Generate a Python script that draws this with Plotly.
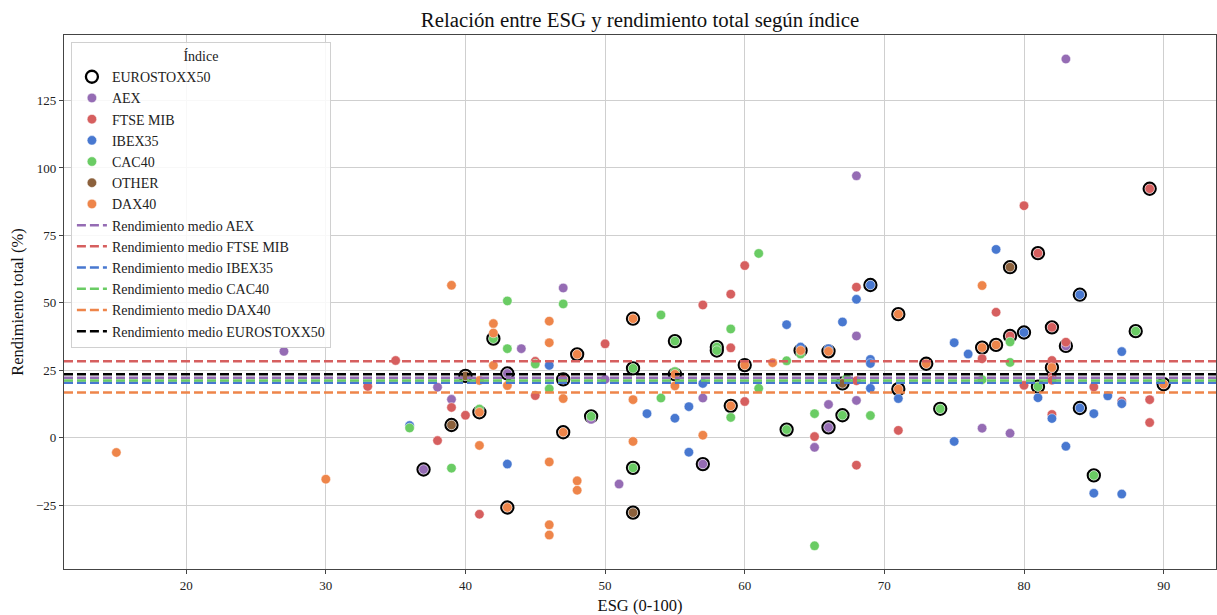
import plotly.graph_objects as go

# ---------------- data ----------------
# Each index: ESG score, total return (%), and EUROSTOXX50 membership flag
aex_esg = [27, 38, 39, 44, 47, 49, 50, 51, 57, 65, 66, 68, 68, 68, 77, 79, 83,
           37, 43, 57, 66, 83]
aex_ret = [32.0, 18.7, 14.2, 33.0, 55.5, 6.8, 21.6, -17.2, 14.7, -3.6, 12.3, 97.1, 37.7, 13.8, 3.5, 1.6, 140.4,
           -11.8, 23.8, -9.8, 3.8, 34.0]
aex_es = [0] * 17 + [1] * 5

ftse_esg = [33, 35, 38, 39, 40, 41, 45, 45, 50, 57, 59, 59, 60, 60, 65, 68, 68, 68, 71, 77, 78,
            80, 80, 82, 82, 82, 82, 83, 85, 87, 89, 89,
            47, 79, 81, 82, 89]
ftse_ret = [19.0, 28.6, -1.1, 11.2, 8.3, -28.4, 28.3, 15.6, 34.8, 49.2, 53.2, 33.3, 63.8, 13.4, 0.4, 55.8,
            21.1, -10.2, 2.7, 29.3, 46.5, 86.0, 19.4, 28.6, 22.5, 21.3, 8.6, 35.4, 18.8, 13.5, 14.1, 5.6,
            21.6, 37.7, 68.4, 40.9, 92.3]
ftse_es = [0] * 32 + [1] * 5

ibex_esg = [36, 43, 46, 53, 55, 56, 56, 57, 63, 64, 66, 67, 68, 69, 69, 69, 71, 75, 75, 76, 78,
            81, 82, 83, 85, 85, 86, 87, 87, 87,
            69, 80, 84, 84]
ibex_ret = [4.5, -9.8, 26.8, 8.9, 7.2, 11.5, -5.4, 20.1, 41.9, 33.6, 33.0, 42.9, 51.3, 29.0, 27.5, 18.3,
            14.5, 35.2, -1.4, 31.0, 69.8, 14.8, 7.1, -3.2, 8.9, -20.6, 15.5, 31.9, 12.6, -20.9,
            56.6, 39.0, 53.0, 11.0]
ibex_es = [0] * 30 + [1] * 4

cac_esg = [36, 39, 41, 43, 43, 45, 46, 47, 54, 54, 55, 59, 59, 61, 61, 63, 64, 65, 65, 67.3, 69,
           77, 79, 79,
           42, 49, 52, 52, 55, 58, 58, 63, 67, 74, 81, 85, 88]
cac_ret = [3.6, -11.3, 10.6, 50.7, 33.0, 27.3, 18.1, 49.6, 45.5, 14.7, 24.5, 40.3, 7.5, 68.3, 18.3,
           28.5, 31.0, 8.9, -40.1, 22.0, 8.2, 21.5, 35.5, 27.9,
           36.7, 7.9, 25.7, -11.2, 35.8, 33.6, 32.3, 3.0, 8.3, 10.7, 18.9, -14.0, 39.5]
cac_es = [0] * 24 + [1] * 13

other_esg = [39, 40, 52, 67, 79]
other_ret = [4.7, 22.9, -27.8, 20.1, 63.2]
other_es = [1] * 5

dax_esg = [15, 30, 39, 41, 41, 42, 42, 42, 43, 46, 46, 46, 46, 46, 47, 48, 48, 52, 52, 55, 57, 62, 77,
           41, 43, 47, 48, 52, 55, 59, 60, 64, 66, 71, 71, 73, 77, 78, 82, 90]
dax_ret = [-5.5, -15.4, 56.5, 21.2, -2.9, 42.3, 38.8, 26.8, 19.3, 43.2, 35.2, -9.0, -32.3, -36.1, 14.5,
           -16.0, -19.5, 14.1, -1.4, 19.2, 0.9, 27.8, 56.4,
           9.4, -25.9, 2.0, 30.9, 44.1, 23.5, 11.8, 26.9, 32.3, 32.0, 45.8, 18.0, 27.4, 33.4, 34.4, 26.0, 19.8]
dax_es = [0] * 23 + [1] * 17

index_names = ["AEX", "FTSE MIB", "IBEX35", "CAC40", "OTHER", "DAX40"]

# mean total return lines
mean_names = ["AEX", "FTSE MIB", "IBEX35", "CAC40", "DAX40", "EUROSTOXX50"]
mean_values = [22.2, 28.3, 20.4, 21.2, 16.7, 23.5]

# ---------------- styles ----------------
colors = {
    "AEX": "#956cb4",
    "FTSE MIB": "#d65f5f",
    "IBEX35": "#4878d0",
    "CAC40": "#6acc64",
    "OTHER": "#8c613c",
    "DAX40": "#ee854a",
    "EUROSTOXX50": "#000000",
}
FONT = "Times New Roman, Liberation Serif, serif"
X_RANGE = [11.25, 93.75]
Y_RANGE = [-48.7, 149.3]

groups = {
    "AEX": (aex_esg, aex_ret, aex_es),
    "FTSE MIB": (ftse_esg, ftse_ret, ftse_es),
    "IBEX35": (ibex_esg, ibex_ret, ibex_es),
    "CAC40": (cac_esg, cac_ret, cac_es),
    "OTHER": (other_esg, other_ret, other_es),
    "DAX40": (dax_esg, dax_ret, dax_es),
}

fig = go.Figure()

# EUROSTOXX50 rings (drawn under the coloured points)
ring_x, ring_y = [], []
for name in index_names:
    xs, ys, fl = groups[name]
    for x, y, f in zip(xs, ys, fl):
        if f:
            ring_x.append(x)
            ring_y.append(y)
fig.add_trace(go.Scatter(
    x=ring_x, y=ring_y, mode="markers", name="EUROSTOXX50",
    marker=dict(size=12, color="rgba(0,0,0,0)", line=dict(color="black", width=2.3)),
))

for name in index_names:
    xs, ys, _ = groups[name]
    fig.add_trace(go.Scatter(
        x=xs, y=ys, mode="markers", name=name,
        marker=dict(size=9.5, color=colors[name], line=dict(color="white", width=0.5)),
    ))

for name, val in zip(mean_names, mean_values):
    fig.add_trace(go.Scatter(
        x=X_RANGE, y=[val, val], mode="lines", name=f"Rendimiento medio {name}",
        line=dict(color=colors[name], width=2.5, dash="9px,4px"),
    ))

axis_common = dict(
    showgrid=True, gridcolor="#cfcfcf", gridwidth=1,
    showline=True, linecolor="#444444", linewidth=1.3, mirror=True,
    ticks="outside", ticklen=4, tickcolor="#444444", tickwidth=1,
    zeroline=False,
    tickfont=dict(family=FONT, size=13, color="#222222"),
)

fig.update_layout(
    width=1217, height=615,
    margin=dict(l=64, r=1, t=35, b=46),
    paper_bgcolor="white", plot_bgcolor="white",
    font=dict(family=FONT, color="#222222"),
    title=dict(text="Relación entre ESG y rendimiento total según índice",
               x=0.5, xref="paper", xanchor="center", y=1 - 20 / 615, yanchor="middle",
               font=dict(family=FONT, size=20.8, color="#111111")),
    xaxis=dict(range=X_RANGE, tickvals=[20, 30, 40, 50, 60, 70, 80, 90],
               title=dict(text="ESG (0-100)", font=dict(family=FONT, size=16.5, color="#111111"), standoff=8),
               **axis_common),
    yaxis=dict(range=Y_RANGE, tickvals=[-25, 0, 25, 50, 75, 100, 125],
               title=dict(text="Rendimiento total (%)", font=dict(family=FONT, size=16.5, color="#111111"), standoff=8),
               **axis_common),
    legend=dict(
        x=0.006, y=0.987, xanchor="left", yanchor="top",
        bgcolor="rgba(255,255,255,0.85)", bordercolor="#d0d0d0", borderwidth=1,
        font=dict(family=FONT, size=14, color="#222222"),
        title=dict(text="Índice", side="top center", font=dict(family=FONT, size=14, color="#222222")),
    ),
)

fig.write_html("out.html")
